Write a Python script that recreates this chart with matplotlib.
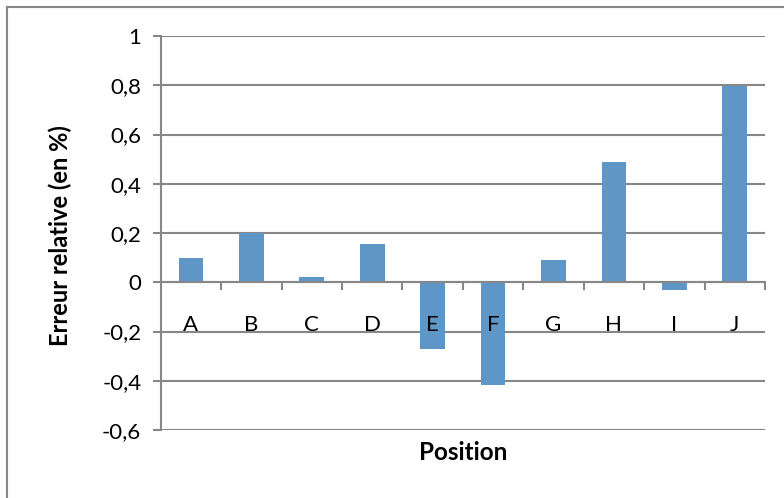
import matplotlib.pyplot as plt
import numpy as np
from matplotlib.lines import Line2D

positions = ["A", "B", "C", "D", "E", "F", "G", "H", "I", "J"]
erreurs = [0.098, 0.199, 0.022, 0.154, -0.27, -0.417, 0.089, 0.487, -0.032, 0.798]
yticks = [-0.6, -0.4, -0.2, 0, 0.2, 0.4, 0.6, 0.8, 1]
ytick_labels = ["-0,6", "-0,4", "-0,2", "0", "0,2", "0,4", "0,6", "0,8", "1"]

plt.rcParams["font.family"] = ["Lato", "DejaVu Sans"]
grey = "#878787"
blue = "#5f96c8"

fig = plt.figure(figsize=(7.84, 4.98), dpi=100)
ax = fig.add_axes([160.7 / 784, 1 - 430 / 498, (765 - 160.7) / 784, (430 - 36) / 498])

x = np.arange(len(positions))
ax.bar(x, erreurs, width=0.41, color=blue, zorder=3)

ax.set_xlim(-0.5, len(positions) - 0.5)
ax.set_ylim(-0.6, 1)
ax.set_yticks(yticks)
ax.set_yticklabels(ytick_labels, fontsize=16)
ax.yaxis.grid(True, color=grey, linewidth=1.5, zorder=0)
ax.tick_params(axis="y", length=6, width=1.5, color=grey, pad=8)

ax.spines["top"].set_visible(False)
ax.spines["right"].set_visible(False)
ax.spines["left"].set_color(grey)
ax.spines["left"].set_linewidth(1.5)
ax.spines["bottom"].set_position(("data", 0))
ax.spines["bottom"].set_color(grey)
ax.spines["bottom"].set_linewidth(1.5)
ax.spines["bottom"].set_zorder(4)

# category boundaries as small ticks under the zero line
ax.set_xticks(np.arange(0.5, len(positions), 1))
ax.set_xticklabels([])
ax.tick_params(axis="x", length=6, width=1.5, color=grey, direction="out")

# category labels drawn over the bars, as in the original
for xi, label in zip(x, positions):
    ax.text(xi, -0.172, label, fontsize=16, ha="center", va="center", zorder=5)

fig.text(60 / 784, 1 - 236 / 498, "Erreur relative (en %)", rotation=90, fontsize=17,
         fontweight="bold", ha="center", va="center")
fig.text(463 / 784, 1 - 452 / 498, "Position", fontsize=17.5, fontweight="bold",
         ha="center", va="center")

# chart area frame (top and left edges visible)
fig.add_artist(Line2D([7 / 784, 7 / 784], [0, 1 - 7 / 498], color=grey, linewidth=1.5))
fig.add_artist(Line2D([7 / 784, 1], [1 - 7 / 498, 1 - 7 / 498], color=grey, linewidth=1.5))

fig.savefig("out.png", dpi=100)
